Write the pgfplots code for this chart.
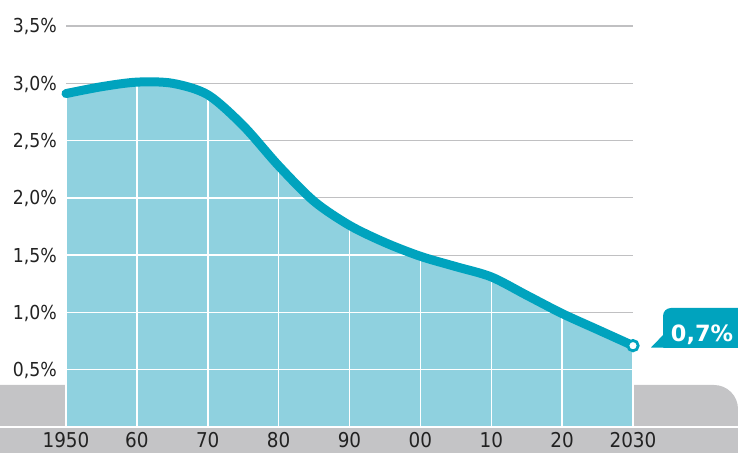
\documentclass[border=0pt]{standalone}
\usepackage{pgfplots}
\pgfplotsset{compat=1.18}
\usepackage{fontspec}
\setmainfont{DejaVu Sans Condensed}
\newfontfamily\cfont{DejaVu Sans}
\definecolor{teal1}{RGB}{0,163,190}
\definecolor{fillc}{RGB}{143,209,223}
\definecolor{band}{RGB}{196,196,198}
\definecolor{gridg}{RGB}{192,192,194}
\definecolor{txt}{RGB}{34,34,34}
\pgfplotstableread{
year val
1950 2.91
1955 2.97
1960 3.01
1965 3.00
1970 2.90
1975 2.63
1980 2.28
1985 1.97
1990 1.76
1995 1.61
2000 1.49
2005 1.40
2010 1.31
2015 1.15
2020 0.99
2025 0.85
2030 0.71
}\growth
\pgfplotstableread{
year val
1950 2.91
1960 3.01
1970 2.90
1980 2.28
1990 1.76
2000 1.49
2010 1.31
2020 0.99
2030 0.71
}\decades
\begin{document}
\begin{tikzpicture}[x=1bp,y=1bp]
\useasboundingbox (0,0) rectangle (738,453);
\clip (0,0) rectangle (738,453);
\fill[band] (0,0) -- (0,68) -- (714,68) arc[start angle=90, end angle=0, radius=24] -- (738,0) -- cycle;
\begin{axis}[
  at={(66bp,26bp)}, anchor=south west, scale only axis,
  width=567bp, height=401bp,
  xmin=1950, xmax=2030, ymin=0, ymax=3.5, clip=false,
  axis line style={draw=none}, tick style={draw=none},
  xtick={1950,1960,...,2030},
  xticklabels={1950,60,70,80,90,00,10,20,2030},
  ytick={0.5,1,1.5,2,2.5,3,3.5},
  yticklabels={{0,5\%},{1,0\%},{1,5\%},{2,0\%},{2,5\%},{3,0\%},{3,5\%}},
  xticklabel style={font=\fontsize{20.5}{20.5}\selectfont, text=txt, anchor=base, inner sep=0pt, yshift=-21bp},
  yticklabel style={font=\fontsize{19.3}{19.3}\selectfont, text=txt, anchor=base east, inner sep=0pt, xshift=-9bp, yshift=-7bp},
  ymajorgrids, major grid style={gridg, line width=1.2bp},
]
\addplot[fill=fillc, draw=none, smooth] table[x=year,y=val] {\growth} \closedcycle;
\addplot[ycomb, white, line width=1.5bp, mark=none] table[x=year,y=val] {\decades};
\addplot[white, line width=1.5bp] coordinates {(1950,0) (2030,0)};
\addplot[white, line width=1.5bp] coordinates {(1950,0.5) (2030,0.5)};
\addplot[white, line width=1.5bp] coordinates {(1950,1.0) (2019.7,1.0)};
\addplot[white, line width=1.5bp] coordinates {(1950,1.5) (1999.6,1.5)};
\addplot[white, line width=1.5bp] coordinates {(1950,2.0) (1984.5,2.0)};
\addplot[white, line width=1.5bp] coordinates {(1950,2.5) (1976.9,2.5)};
\addplot[teal1, line width=9bp, smooth, line cap=round, line join=round] table[x=year,y=val] {\growth};
\addplot[only marks, mark=*, mark size=5.2bp, mark options={fill=white, draw=teal1, line width=2.8bp}] coordinates {(2030,0.71)};
\end{axis}
\draw[white, line width=2bp] (0,26) -- (66,26);
\draw[white, line width=2bp] (633,26) -- (738,26);
\fill[teal1, rounded corners=8bp] (663,105) rectangle (750,145);
\fill[teal1] (651,105.5) -- (666,121) -- (675,105) -- cycle;
\node[anchor=base, inner sep=0pt, text=white, font=\cfont\bfseries\fontsize{22.5}{22.5}\selectfont] at (702,111) {0,7\%};
\end{tikzpicture}
\end{document}
